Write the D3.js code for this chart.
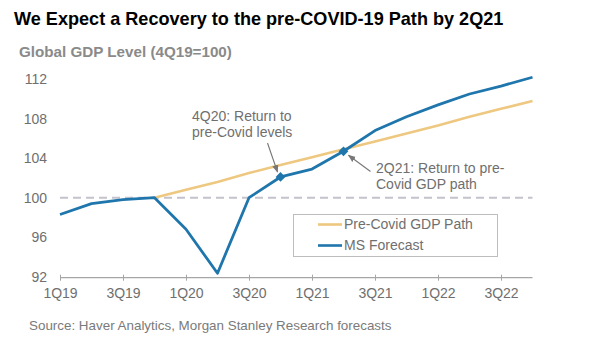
<!DOCTYPE html>
<html><head><meta charset="utf-8">
<script src="https://cdn.jsdelivr.net/npm/d3@7"></script>
<style>
html,body{margin:0;padding:0;background:#fff;}
svg{display:block;font-family:"Liberation Sans",Arial,sans-serif;}
</style></head>
<body>
<svg id="chart" width="589" height="340"></svg>
<script>
const quarters = ["1Q19","2Q19","3Q19","4Q19","1Q20","2Q20","3Q20","4Q20","1Q21","2Q21","3Q21","4Q21","1Q22","2Q22","3Q22","4Q22"];
const tickLabels = ["1Q19","3Q19","1Q20","3Q20","1Q21","3Q21","1Q22","3Q22"];
const yTicks = [92,96,100,104,108,112];
const msForecast = [98.3,99.4,99.8,100.0,96.8,92.35,100.0,102.1,102.9,104.7,106.8,108.2,109.4,110.5,111.3,112.2];
const preCovidQuarters = ["4Q19","1Q20","2Q20","3Q20","4Q20","1Q21","2Q21","3Q21","4Q21","1Q22","2Q22","3Q22","4Q22"];
const preCovidPath = [100.0,100.8,101.6,102.5,103.3,104.1,104.9,105.7,106.5,107.3,108.2,109.0,109.8];
const markerQuarters = ["4Q20","2Q21"];

const svg = d3.select("#chart");
const x = d3.scalePoint().domain(quarters).range([60, 532.5]).padding(0);
const y = d3.scaleLinear().domain([92,112]).range([276.7, 79.2]);

const blue = "#1f76ac", gold = "#eec880", grey = "#6f6f6f";

// titles
svg.append("text").attr("x",14).attr("y",25).attr("font-size",18.1).attr("font-weight","bold")
  .attr("fill","#000").text("We Expect a Recovery to the pre-COVID-19 Path by 2Q21");
svg.append("text").attr("x",19).attr("y",57).attr("font-size",15.2).attr("font-weight","bold")
  .attr("fill","#8a8a8a").text("Global GDP Level (4Q19=100)");

// y labels
svg.append("g").selectAll("text").data(yTicks).join("text")
  .attr("x",47).attr("y",d=>y(d)).attr("dy","0.35em").attr("text-anchor","end")
  .attr("font-size",14).attr("fill",grey).text(d=>d);

// 100 dashed line
svg.append("line").attr("x1",x("1Q19")).attr("x2",x("4Q22")).attr("y1",y(100)).attr("y2",y(100))
  .attr("stroke","#c4c2cc").attr("stroke-width",2).attr("stroke-dasharray","8,5");

// x axis
const xAxis = d3.axisBottom(x).tickValues(tickLabels).tickSize(2).tickPadding(8);
const gx = svg.append("g").attr("transform",`translate(0,${y(92)+1})`).call(xAxis);
gx.select(".domain").attr("stroke","#a6a6a6").attr("stroke-width",1.3).attr("d",`M${x("1Q19")},0H${x("4Q22")}`);
gx.selectAll(".tick line").attr("stroke","#a6a6a6").attr("y1",-3).attr("y2",3);
gx.selectAll(".tick text").attr("font-size",14).attr("fill",grey).attr("font-family","Liberation Sans, Arial, sans-serif");

// lines
const line = d3.line().x(d=>x(d.q)).y(d=>y(d.v));
svg.append("path").datum(preCovidQuarters.map((q,i)=>({q,v:preCovidPath[i]})))
  .attr("d",line).attr("fill","none").attr("stroke",gold).attr("stroke-width",2.6);
svg.append("path").datum(quarters.map((q,i)=>({q,v:msForecast[i]})))
  .attr("d",line).attr("fill","none").attr("stroke",blue).attr("stroke-width",2.8).attr("stroke-linejoin","round");

// markers
svg.append("g").selectAll("path").data(markerQuarters).join("path")
  .attr("d",d3.symbol(d3.symbolDiamond2,60)())
  .attr("transform",d=>`translate(${x(d)},${y(msForecast[quarters.indexOf(d)])})`)
  .attr("fill",blue);

// arrows
const defs = svg.append("defs");
defs.append("marker").attr("id","arr").attr("viewBox","0 0 10 10").attr("refX",9).attr("refY",5)
  .attr("markerWidth",7).attr("markerHeight",7).attr("orient","auto")
  .append("path").attr("d","M0,1L10,5L0,9Z").attr("fill","#777");

const m1 = [x("4Q20"), y(msForecast[7])];
svg.append("line").attr("x1",m1[0]-13).attr("y1",143).attr("x2",m1[0]-3).attr("y2",m1[1]-5)
  .attr("stroke","#777").attr("stroke-width",1.1).attr("marker-end","url(#arr)");
const m2 = [x("2Q21"), y(msForecast[9])];
svg.append("line").attr("x1",m2[0]+27).attr("y1",171.5).attr("x2",m2[0]+5).attr("y2",m2[1]+4)
  .attr("stroke","#777").attr("stroke-width",1.1).attr("marker-end","url(#arr)");

// annotations
const ann = svg.append("g").attr("font-size",14).attr("fill",grey);
ann.append("text").attr("x",192).attr("y",121).text("4Q20: Return to");
ann.append("text").attr("x",192).attr("y",137).text("pre-Covid levels");
ann.append("text").attr("x",376).attr("y",173).text("2Q21: Return to pre-");
ann.append("text").attr("x",376).attr("y",189).text("Covid GDP path");

// legend
const lg = svg.append("g");
lg.append("rect").attr("x",293.5).attr("y",214.5).attr("width",204).attr("height",42)
  .attr("fill","#fff").attr("stroke","#bdbdbd").attr("stroke-width",1);
const legendItems = [{name:"Pre-Covid GDP Path", color:gold, y:224.5},{name:"MS Forecast", color:blue, y:245.5}];
legendItems.forEach(it=>{
  lg.append("line").attr("x1",318).attr("x2",342).attr("y1",it.y).attr("y2",it.y)
    .attr("stroke",it.color).attr("stroke-width",2.6);
  lg.append("text").attr("x",344).attr("y",it.y).attr("dy","0.35em").attr("font-size",14)
    .attr("fill",grey).text(it.name);
});

// source
svg.append("text").attr("x",29).attr("y",330).attr("font-size",13.4).attr("fill","#7a7a7a")
  .text("Source: Haver Analytics, Morgan Stanley Research forecasts");
</script>
</body></html>
